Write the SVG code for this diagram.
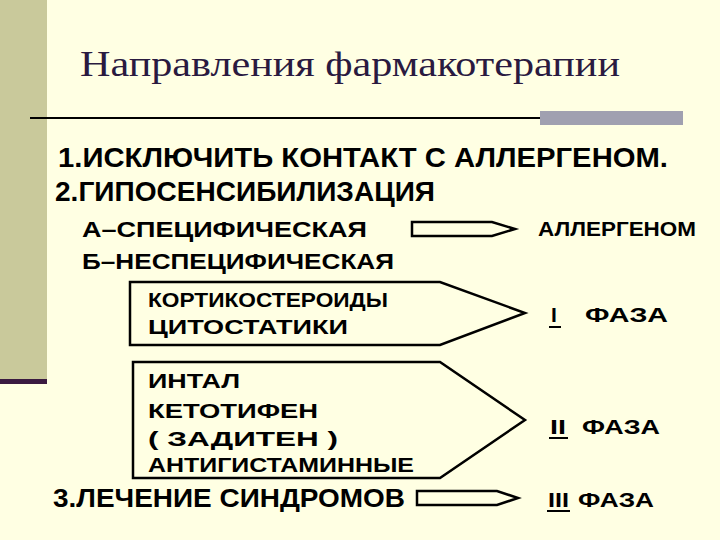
<svg xmlns="http://www.w3.org/2000/svg" width="720" height="540" viewBox="0 0 720 540">
<style>
.t{font-family:"Liberation Sans",Arial,sans-serif;font-weight:bold;fill:#000}
.s{fill:none;stroke:#000;stroke-width:2.5}
</style>
<rect width="720" height="540" fill="#FFFFE3"/>
<rect x="0" y="0" width="47" height="380" fill="#C9C99B"/>
<rect x="0" y="379" width="47" height="5" fill="#3A1A40"/>
<line x1="30" y1="118" x2="540" y2="118" stroke="#000" stroke-width="2"/>
<rect x="540" y="111" width="143" height="14" fill="#A0A0B0"/>
<text x="80" y="76" font-family="Liberation Serif,serif" font-size="36" fill="#2A1A40" textLength="540" lengthAdjust="spacingAndGlyphs">Направления фармакотерапии</text>
<g id="line1"><text class="t" x="58" y="167" font-size="27" textLength="610" lengthAdjust="spacingAndGlyphs">1.ИСКЛЮЧИТЬ КОНТАКТ С АЛЛЕРГЕНОМ.</text></g>
<g id="line2"><text class="t" x="55" y="201" font-size="27" textLength="380" lengthAdjust="spacingAndGlyphs">2.ГИПОСЕНСИБИЛИЗАЦИЯ</text></g>
<g id="lineA"><text class="t" x="82" y="237" font-size="22" textLength="285" lengthAdjust="spacingAndGlyphs">А–СПЕЦИФИЧЕСКАЯ</text></g>
<g id="lineB"><text class="t" x="82" y="269" font-size="22" textLength="312" lengthAdjust="spacingAndGlyphs">Б–НЕСПЕЦИФИЧЕСКАЯ</text></g>
<g id="connectors">
<polygon class="s" points="412,222 492,222 515,229 492,236 412,236"/>
<polygon class="s" points="417,491 497,491 518,498 497,505 417,505"/>
</g>
<g id="allergen"><text class="t" x="538" y="236" font-size="20" textLength="158" lengthAdjust="spacingAndGlyphs">АЛЛЕРГЕНОМ</text></g>
<g id="box1">
<polygon class="s" points="130,282 440,282 525,313 440,345 130,345"/>
<text class="t" x="148" y="307" font-size="21" textLength="240" lengthAdjust="spacingAndGlyphs">КОРТИКОСТЕРОИДЫ</text>
<text class="t" x="148" y="334" font-size="21" textLength="200" lengthAdjust="spacingAndGlyphs">ЦИТОСТАТИКИ</text>
</g>
<g id="phase1">
<text class="t" x="551" y="322" font-size="21">I</text>
<line x1="549" y1="327" x2="561" y2="327" stroke="#000" stroke-width="2"/>
<text class="t" x="585" y="322" font-size="21" textLength="83" lengthAdjust="spacingAndGlyphs">ФАЗА</text>
</g>
<g id="box2">
<polygon class="s" points="133,362 440,362 525,420 440,478 133,478"/>
<text class="t" x="148" y="388" font-size="21" textLength="92" lengthAdjust="spacingAndGlyphs">ИНТАЛ</text>
<text class="t" x="148" y="418" font-size="21" textLength="170" lengthAdjust="spacingAndGlyphs">КЕТОТИФЕН</text>
<text class="t" x="148" y="446" font-size="21" textLength="190" lengthAdjust="spacingAndGlyphs">( ЗАДИТЕН )</text>
<text class="t" x="148" y="472" font-size="21" textLength="266" lengthAdjust="spacingAndGlyphs">АНТИГИСТАМИННЫЕ</text>
</g>
<g id="phase2">
<text class="t" x="550" y="434" font-size="21" textLength="16" lengthAdjust="spacingAndGlyphs">II</text>
<line x1="549" y1="438" x2="568" y2="438" stroke="#000" stroke-width="2"/>
<text class="t" x="582" y="434" font-size="21" textLength="78" lengthAdjust="spacingAndGlyphs">ФАЗА</text>
</g>
<g id="line3"><text class="t" x="53" y="507" font-size="25" textLength="352" lengthAdjust="spacingAndGlyphs">3.ЛЕЧЕНИЕ   СИНДРОМОВ</text></g>
<g id="phase3">
<text class="t" x="548" y="507" font-size="21" textLength="21" lengthAdjust="spacingAndGlyphs">III</text>
<line x1="547" y1="511" x2="570" y2="511" stroke="#000" stroke-width="2"/>
<text class="t" x="578" y="507" font-size="21" textLength="76" lengthAdjust="spacingAndGlyphs">ФАЗА</text>
</g>
</svg>
